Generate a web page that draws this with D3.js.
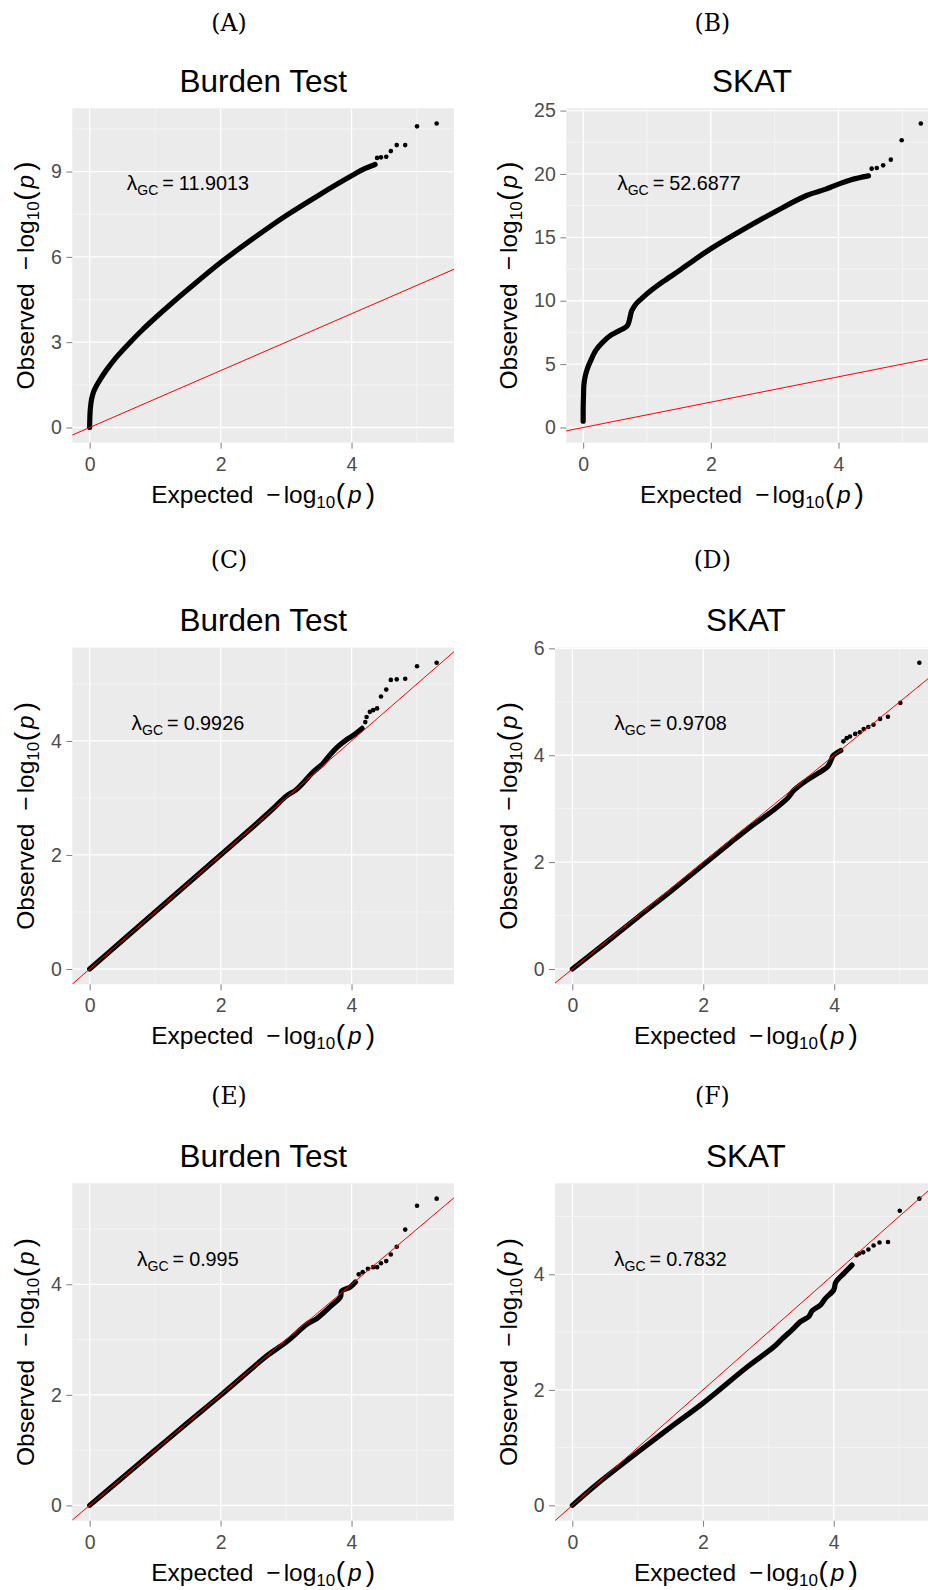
<!DOCTYPE html>
<html>
<head>
<meta charset="utf-8">
<script src="https://cdn.jsdelivr.net/npm/d3@7"></script>
<style>
  html, body { margin: 0; padding: 0; background: #ffffff; }
  svg { display: block; }
</style>
</head>
<body>
<svg id="fig" width="928" height="1590"></svg>
<script>
// QQ plots of gene-based p-values (burden test vs. SKAT) under three scenarios.

const panelLetters = ["(A)", "(B)", "(C)", "(D)", "(E)", "(F)"];
const panelTitles  = ["Burden Test", "SKAT", "Burden Test", "SKAT", "Burden Test", "SKAT"];
const lambdaGC     = ["11.9013", "52.6877", "0.9926", "0.9708", "0.995", "0.7832"];
// where each genomic-control annotation sits, in data units
const lambdaAnchorX = 1.5;
const lambdaAnchorY = [8.36, 18.7, 4.19, 4.47, 4.33, 4.14];

const xTicks  = [0, 2, 4];
const yTicksA = [0, 3, 6, 9];
const yTicksB = [0, 5, 10, 15, 20, 25];
const yTicksC = [0, 2, 4];
const yTicksD = [0, 2, 4, 6];
const yTicksE = [0, 2, 4];
const yTicksF = [0, 2, 4];

// dense body of each QQ curve: [expected, observed] -log10(p)
const bodyA = [[0,0],[0.003,0.35],[0.01,0.65],[0.03,1.0],[0.06,1.25],[0.1,1.45],[0.15,1.65],[0.25,2.0],
  [0.4,2.45],[0.62,3.0],[0.8,3.42],[1.0,3.85],[1.25,4.36],[1.5,4.85],[2.0,5.8],[2.5,6.65],[3.0,7.45],
  [3.5,8.17],[4.0,8.85],[4.2,9.1],[4.36,9.25]];
const bodyB = [[0,0.5],[0,1.5],[0.005,2.5],[0.01,3.3],[0.03,4.0],[0.07,4.7],[0.12,5.3],[0.2,6.1],[0.3,6.7],
  [0.44,7.3],[0.55,7.6],[0.65,7.85],[0.7,8.1],[0.73,8.6],[0.76,9.2],[0.82,9.7],[0.9,10.1],[1.0,10.55],
  [1.25,11.5],[1.5,12.35],[1.75,13.25],[2.0,14.1],[2.5,15.6],[3.0,17.0],[3.5,18.3],[3.8,18.8],[4.0,19.2],
  [4.2,19.55],[4.47,19.85]];
const bodyC = [[0,0],[0.5,0.5],[1,1],[1.5,1.5],[2,2],[2.5,2.5],[2.8,2.81],[3.0,3.03],[3.15,3.14],[3.25,3.25],
  [3.4,3.44],[3.56,3.6],[3.66,3.74],[3.77,3.88],[3.92,4.02],[4.03,4.1],[4.16,4.22]];
const bodyD = [[0,0],[0.5,0.48],[1,0.97],[1.5,1.45],[2,1.95],[2.4,2.35],[2.73,2.67],[3.08,2.98],[3.29,3.2],
  [3.39,3.35],[3.59,3.54],[3.75,3.66],[3.9,3.79],[3.96,3.93],[3.98,3.99],[4.1,4.09]];
const bodyE = [[0,0],[0.5,0.5],[1,1],[1.5,1.5],[2,1.99],[2.5,2.5],[2.71,2.71],[3.01,2.96],[3.32,3.28],
  [3.47,3.38],[3.67,3.59],[3.83,3.77],[3.85,3.88],[3.98,3.95],[4.06,4.04]];
const bodyF = [[0,0],[0.38,0.37],[0.99,0.91],[1.5,1.35],[2.0,1.77],[2.68,2.4],[3.08,2.74],[3.19,2.86],
  [3.39,3.07],[3.49,3.18],[3.62,3.27],[3.67,3.37],[3.8,3.47],[3.87,3.58],[4.0,3.73],[4.03,3.86],
  [4.16,4.02],[4.28,4.16]];

// sparse upper tail of each QQ curve, drawn as single points
const tailA = [[4.39,9.48],[4.45,9.50],[4.53,9.52],[4.60,9.72],[4.69,9.93],[4.82,9.93],[5.00,10.59],[5.30,10.69]];
const tailB = [[4.52,20.42],[4.60,20.47],[4.70,20.68],[4.82,21.13],[4.99,22.66],[5.29,23.98]];
const tailC = [[4.21,4.33],[4.23,4.42],[4.28,4.51],[4.33,4.54],[4.39,4.57],[4.45,4.78],[4.53,4.90],
  [4.60,5.07],[4.69,5.08],[4.82,5.09],[5.00,5.31],[5.30,5.37]];
const tailD = [[4.14,4.26],[4.19,4.32],[4.24,4.35],[4.32,4.40],[4.39,4.43],[4.45,4.49],[4.52,4.53],
  [4.60,4.57],[4.70,4.68],[4.82,4.72],[5.01,4.98],[5.30,5.73]];
const tailE = [[4.11,4.18],[4.17,4.22],[4.25,4.28],[4.33,4.31],[4.39,4.31],[4.45,4.38],[4.53,4.42],
  [4.60,4.54],[4.69,4.68],[4.82,4.99],[5.00,5.42],[5.30,5.55]];
const tailF = [[4.35,4.33],[4.39,4.36],[4.45,4.38],[4.53,4.43],[4.61,4.50],[4.70,4.55],[4.83,4.56],
  [5.01,5.10],[5.31,5.31]];

const bodies = [bodyA, bodyB, bodyC, bodyD, bodyE, bodyF];
const tails  = [tailA, tailB, tailC, tailD, tailE, tailF];
const yTickSets = [yTicksA, yTicksB, yTicksC, yTicksD, yTicksE, yTicksF];

// ---- layout ----
const rowTop    = [108.3, 647.5, 1183.3];
const rowHeight = [334.4, 336.8, 337.4];
const letterBaseline = [31, 567.5, 1103.5];
const colLetterX = [229, 712.3];
const colYTitleX = [33.5, 517.3];
const panelLeft  = [72.3, 566.3, 72.3, 555, 72.3, 555];
const panelWidth = [381.7, 371.4, 381.7, 381.7, 381.7, 381.7];

const SANS = "'Liberation Sans', Arial, Helvetica, sans-serif";
const SERIF = "'DejaVu Serif', 'Liberation Serif', serif";

const svg = d3.select("#fig");
const defs = svg.append("defs");

// -log10(p) axis title with subscript and italic p
function logTitle(sel, word) {
  const t = sel.append("text")
    .attr("text-anchor", "middle")
    .attr("font-family", SANS)
    .attr("font-size", 24.5)
    .attr("fill", "#000");
  t.append("tspan").text(word);
  t.append("tspan").attr("dx", 13).text("\u2212");
  t.append("tspan").attr("dx", 3).text("log");
  t.append("tspan").attr("font-size", 17).attr("dy", 5).text("10");
  t.append("tspan").attr("font-size", 28).attr("dy", -5).attr("dx", 0.5).text("(");
  t.append("tspan").attr("font-style", "italic").attr("dx", 3).text("p");
  t.append("tspan").attr("font-size", 28).attr("dx", 4).text(")");
  return t;
}

function minorTicks(ticks, domain) {
  const step = ticks[1] - ticks[0];
  const out = [];
  for (let v = ticks[0] - step / 2; v <= domain[1]; v += step) {
    if (v >= domain[0]) out.push(v);
  }
  return out;
}

bodies.forEach((body, i) => {
  const row = Math.floor(i / 2), col = i % 2;
  const left = panelLeft[i], top = rowTop[row];
  const w = panelWidth[i], h = rowHeight[row];
  const pts = body.concat(tails[i]);

  // ggplot-style 5% expansion around [0, max]
  const xMax = d3.max(pts, d => d[0]);
  const yMax = d3.max(pts, d => d[1]);
  const xDom = [-0.05 * xMax, xMax * 1.05];
  const yDom = [-0.05 * yMax, yMax * 1.05];
  const x = d3.scaleLinear().domain(xDom).range([left, left + w]);
  const y = d3.scaleLinear().domain(yDom).range([top + h, top]);

  const clipId = "clip" + i;
  defs.append("clipPath").attr("id", clipId)
    .append("rect").attr("x", left).attr("y", top).attr("width", w).attr("height", h);

  const g = svg.append("g");

  // panel background
  g.append("rect").attr("x", left).attr("y", top).attr("width", w).attr("height", h)
    .attr("fill", "#EBEBEB");

  const grid = g.append("g").attr("clip-path", `url(#${clipId})`);
  // minor grid
  grid.selectAll(".mx").data(minorTicks(xTicks, xDom)).join("line")
    .attr("x1", d => x(d)).attr("x2", d => x(d)).attr("y1", top).attr("y2", top + h)
    .attr("stroke", "#F5F5F5").attr("stroke-width", 0.9);
  grid.selectAll(".my").data(minorTicks(yTickSets[i], yDom)).join("line")
    .attr("y1", d => y(d)).attr("y2", d => y(d)).attr("x1", left).attr("x2", left + w)
    .attr("stroke", "#F5F5F5").attr("stroke-width", 0.9);
  // major grid
  grid.selectAll(".Mx").data(xTicks).join("line")
    .attr("x1", d => x(d)).attr("x2", d => x(d)).attr("y1", top).attr("y2", top + h)
    .attr("stroke", "#FFFFFF").attr("stroke-width", 1.3);
  grid.selectAll(".My").data(yTickSets[i]).join("line")
    .attr("y1", d => y(d)).attr("y2", d => y(d)).attr("x1", left).attr("x2", left + w)
    .attr("stroke", "#FFFFFF").attr("stroke-width", 1.3);

  const marks = g.append("g").attr("clip-path", `url(#${clipId})`);
  // dense body of the curve
  marks.append("path")
    .datum(body)
    .attr("d", d3.line().x(d => x(d[0])).y(d => y(d[1])).curve(d3.curveCatmullRom.alpha(0.5)))
    .attr("fill", "none").attr("stroke", "#000").attr("stroke-width", 5.2)
    .attr("stroke-linecap", "round").attr("stroke-linejoin", "round");
  // tail points
  marks.selectAll("circle").data(tails[i]).join("circle")
    .attr("cx", d => x(d[0])).attr("cy", d => y(d[1])).attr("r", 2.3).attr("fill", "#000");
  // y = x reference line
  marks.append("path")
    .datum([[xDom[0] - 1, xDom[0] - 1], [xDom[1] + 1, xDom[1] + 1]])
    .attr("d", d3.line().x(d => x(d[0])).y(d => y(d[1])))
    .attr("stroke", "#FF0000").attr("stroke-width", 1).attr("fill", "none");

  // axes
  const ya = g.append("g").attr("transform", `translate(${left},0)`)
    .call(d3.axisLeft(y).tickValues(yTickSets[i]).tickSize(6).tickPadding(4.5).tickFormat(d3.format("d")));
  const xa = g.append("g").attr("transform", `translate(0,${top + h})`)
    .call(d3.axisBottom(x).tickValues(xTicks).tickSize(6).tickPadding(8).tickFormat(d3.format("d")));
  [ya, xa].forEach(a => {
    a.select(".domain").remove();
    a.selectAll(".tick line").attr("stroke", "#7F7F7F").attr("stroke-width", 1);
    a.selectAll(".tick text").attr("fill", "#4D4D4D").attr("font-family", SANS).attr("font-size", 19.5);
  });

  // genomic-control annotation
  const lt = g.append("text")
    .attr("x", x(lambdaAnchorX)).attr("y", y(lambdaAnchorY[i]))
    .attr("text-anchor", "middle").attr("font-family", SANS).attr("font-size", 19.8).attr("fill", "#000");
  lt.append("tspan").attr("font-size", 21).text("\u03BB");
  lt.append("tspan").attr("font-size", 14).attr("dy", 5).text("GC");
  lt.append("tspan").attr("dy", -5).attr("dx", 4).text("=");
  lt.append("tspan").attr("dx", 5).text(lambdaGC[i]);

  // panel title
  g.append("text")
    .attr("x", left + w / 2).attr("y", top - 16.5)
    .attr("text-anchor", "middle").attr("font-family", SANS).attr("font-size", 31.5).attr("fill", "#000")
    .text(panelTitles[i]);

  // panel letter
  g.append("text")
    .attr("x", colLetterX[col]).attr("y", letterBaseline[row])
    .attr("text-anchor", "middle").attr("font-family", SERIF).attr("font-size", 23.5).attr("fill", "#000")
    .text(panelLetters[i]);

  // axis titles
  logTitle(g.append("g").attr("transform", `translate(${left + w / 2},${top + h + 60})`), "Expected");
  logTitle(g.append("g").attr("transform", `translate(${colYTitleX[col]},${top + h / 2}) rotate(-90)`), "Observed");
});
</script>
</body>
</html>
